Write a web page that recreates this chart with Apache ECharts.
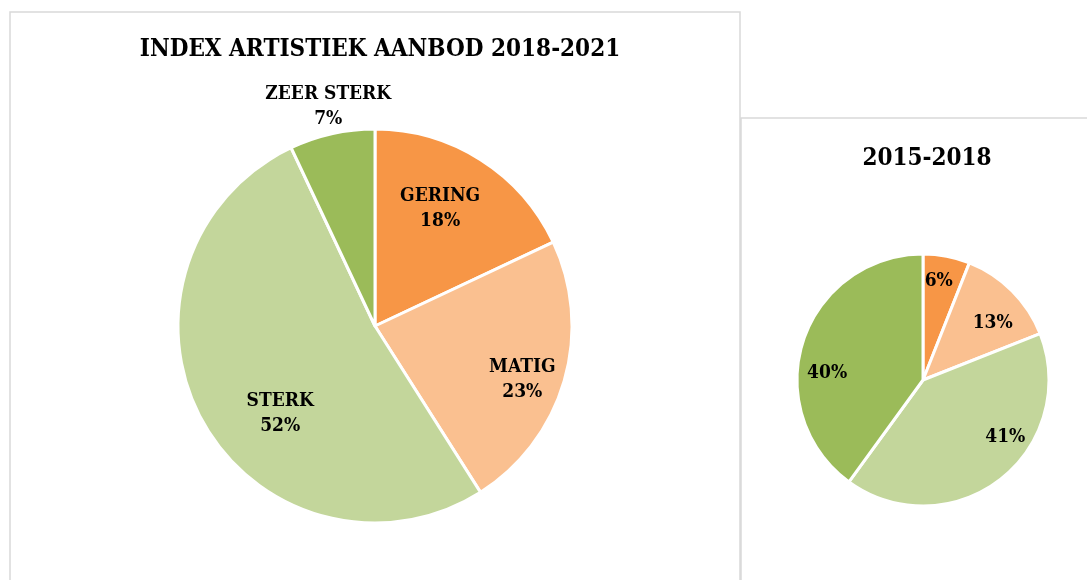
<!DOCTYPE html>
<html>
<head>
<meta charset="utf-8">
<title>Index artistiek aanbod</title>
<script src="https://cdn.jsdelivr.net/npm/echarts@6/dist/echarts.min.js"></script>
<style>
  html, body { margin: 0; padding: 0; background: #fff; }
  #chart { width: 1087px; height: 580px; }
</style>
</head>
<body>
<div id="chart"></div>
<script type="text/javascript">
    // data
    var cats = ['GERING', 'MATIG', 'STERK', 'ZEER STERK'];
    var vals2018 = [18, 23, 52, 7];
    var vals2015 = [6, 13, 41, 40];
    var colors = ['#F79646', '#FAC090', '#C3D69B', '#9BBB59'];

    // where the labels sit: angle from 12 o'clock (deg) and part of the radius
    var angLeft = [29, 110, 227, 348];
    var fracLeft = [0.665, 0.78, 0.64, 1.125];
    var angRight = [9, 51, 124, 274];
    var fracRight = [0.77, 0.69, 0.77, 0.74];

    var font = "'DejaVu Serif Condensed', 'DejaVu Serif', serif";
    var chart = echarts.init(document.getElementById('chart'));

    // moves each inside label from the slice middle to its own spot
    function labelShift(vals, angs, fracs, r) {
        return function (p) {
            var total = 0, before = 0;
            for (var i = 0; i < vals.length; i++) {
                total += vals[i];
                if (i < p.dataIndex) before += vals[i];
            }
            var mid = (before + vals[p.dataIndex] / 2) / total * Math.PI * 2;
            var a = angs[p.dataIndex] * Math.PI / 180;
            var d = fracs[p.dataIndex] * r;
            return {
                dx: d * Math.sin(a) - r / 2 * Math.sin(mid),
                dy: -d * Math.cos(a) + r / 2 * Math.cos(mid)
            };
        };
    }

    function makeData(vals) {
        return vals.map(function (v, i) {
            return { name: cats[i], value: v };
        });
    }

    var rLeft = 197, rRight = 126;
    var labelFont = { fontFamily: font, fontSize: 19, fontWeight: 'bold', color: '#000' };

    var option = {
        animation: false,
        color: colors,
        title: [{
            text: 'INDEX ARTISTIEK AANBOD 2018-2021',
            left: 375, top: 33, textAlign: 'center',
            textStyle: { fontFamily: font, fontSize: 24, fontWeight: 'bold', color: '#000' }
        }, {
            text: '2015-2018',
            left: 922, top: 142, textAlign: 'center',
            textStyle: { fontFamily: font, fontSize: 24, fontWeight: 'bold', color: '#000' }
        }],
        graphic: [{
            type: 'rect', silent: true,
            shape: { x: 10, y: 12, width: 730, height: 600 },
            style: { fill: 'none', stroke: '#d9d9d9', lineWidth: 1.5 }
        }, {
            type: 'rect', silent: true,
            shape: { x: 741, y: 118, width: 400, height: 500 },
            style: { fill: 'none', stroke: '#d9d9d9', lineWidth: 1.5 }
        }],
        series: [{
            type: 'pie',
            center: [375, 326],
            radius: [0, rLeft],
            startAngle: 90,
            clockwise: true,
            itemStyle: { borderColor: '#fff', borderWidth: 3 },
            emphasis: { disabled: true },
            label: Object.assign({
                position: 'inside',
                formatter: function (p) { return p.name + '\n' + p.value + '%'; },
                lineHeight: 25
            }, labelFont),
            labelLine: { show: false },
            labelLayout: labelShift(vals2018, angLeft, fracLeft, rLeft),
            data: makeData(vals2018)
        }, {
            type: 'pie',
            center: [923, 380],
            radius: [0, rRight],
            startAngle: 90,
            clockwise: true,
            itemStyle: { borderColor: '#fff', borderWidth: 3 },
            emphasis: { disabled: true },
            label: Object.assign({
                position: 'inside',
                formatter: function (p) { return p.value + '%'; }
            }, labelFont),
            labelLine: { show: false },
            labelLayout: labelShift(vals2015, angRight, fracRight, rRight),
            data: makeData(vals2015)
        }]
    };
    chart.setOption(option);
</script>
</body>
</html>
